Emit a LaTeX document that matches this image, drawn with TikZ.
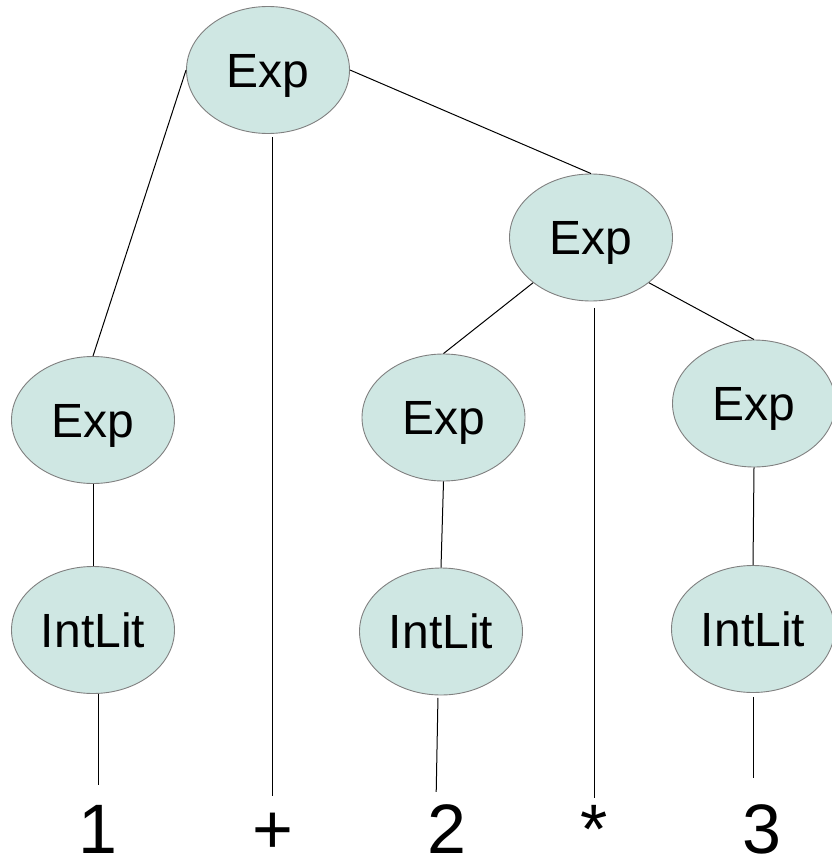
\documentclass[tikz,border=0pt]{standalone}
\usepackage{fontspec}
\setmainfont{Liberation Sans}
\usetikzlibrary{shapes.geometric}
\definecolor{nodefill}{RGB}{207,231,227}
\definecolor{nodeline}{RGB}{128,128,128}
\begin{document}
\begin{tikzpicture}[x=1pt,y=-1pt,
  nt/.style={ellipse, draw=nodeline, line width=0.9pt, fill=nodefill,
    minimum width=163pt, minimum height=127pt, inner sep=0pt,
    font=\fontsize{48}{52}\selectfont, text height=34.5pt, text depth=0pt},
  term/.style={inner sep=0pt, anchor=base, font=\fontsize{70}{76}\selectfont,
    text height=50pt, text depth=0pt},
  edge/.style={draw=black, line width=1pt}]
\useasboundingbox (0,0) rectangle (831,856);
\fill[white] (0,0) rectangle (831,856);
% connectors first (behind nodes)
\node[term] (t1) at (98,853) {1};
\node[term] (tp) at (272.5,853) {+};
\node[term] (t2) at (446.5,853) {2};
\node[term] (ts) at (594.5,853) {*};
\node[term] (t3) at (761.5,853) {3};
\node[nt] (e0) at (268,70) {Exp};
\node[nt] (er) at (591,237.5) {Exp};
\node[nt] (el) at (93,420) {Exp};
\node[nt] (em) at (443.5,417.5) {Exp};
\node[nt] (e2) at (754,403.5) {Exp};
\node[nt] (il) at (93,630) {IntLit};
\node[nt] (im) at (441,631.5) {IntLit};
\node[nt] (ir) at (753,629) {IntLit};
\draw[edge] (e0.west) -- (el.north);
\draw[edge] (e0.east) -- (er.north);
\draw[edge, shorten <=3.5pt, shorten >=7pt] (e0.south -| tp) -- (tp.north);
\draw[edge] (er.218) -- (em.north);
\draw[edge] (er.322) -- (e2.north);
\draw[edge, shorten <=6.5pt, shorten >=5pt] (er.south -| ts) -- (ts.north);
\draw[edge] (el.south) -- (il.north);
\draw[edge] (em.south) -- (im.north);
\draw[edge] (e2.south) -- (ir.north);
\draw[edge, shorten >=18pt] (il.south -| t1) -- (t1.north);
\draw[edge, shorten <=2.5pt, shorten >=11pt] ([xshift=-3pt]im.south) -- ([xshift=-10.5pt]t2.north);
\draw[edge, shorten <=4pt, shorten >=25pt] (ir.south) -- (ir.south |- t3.north);
\end{tikzpicture}
\end{document}
